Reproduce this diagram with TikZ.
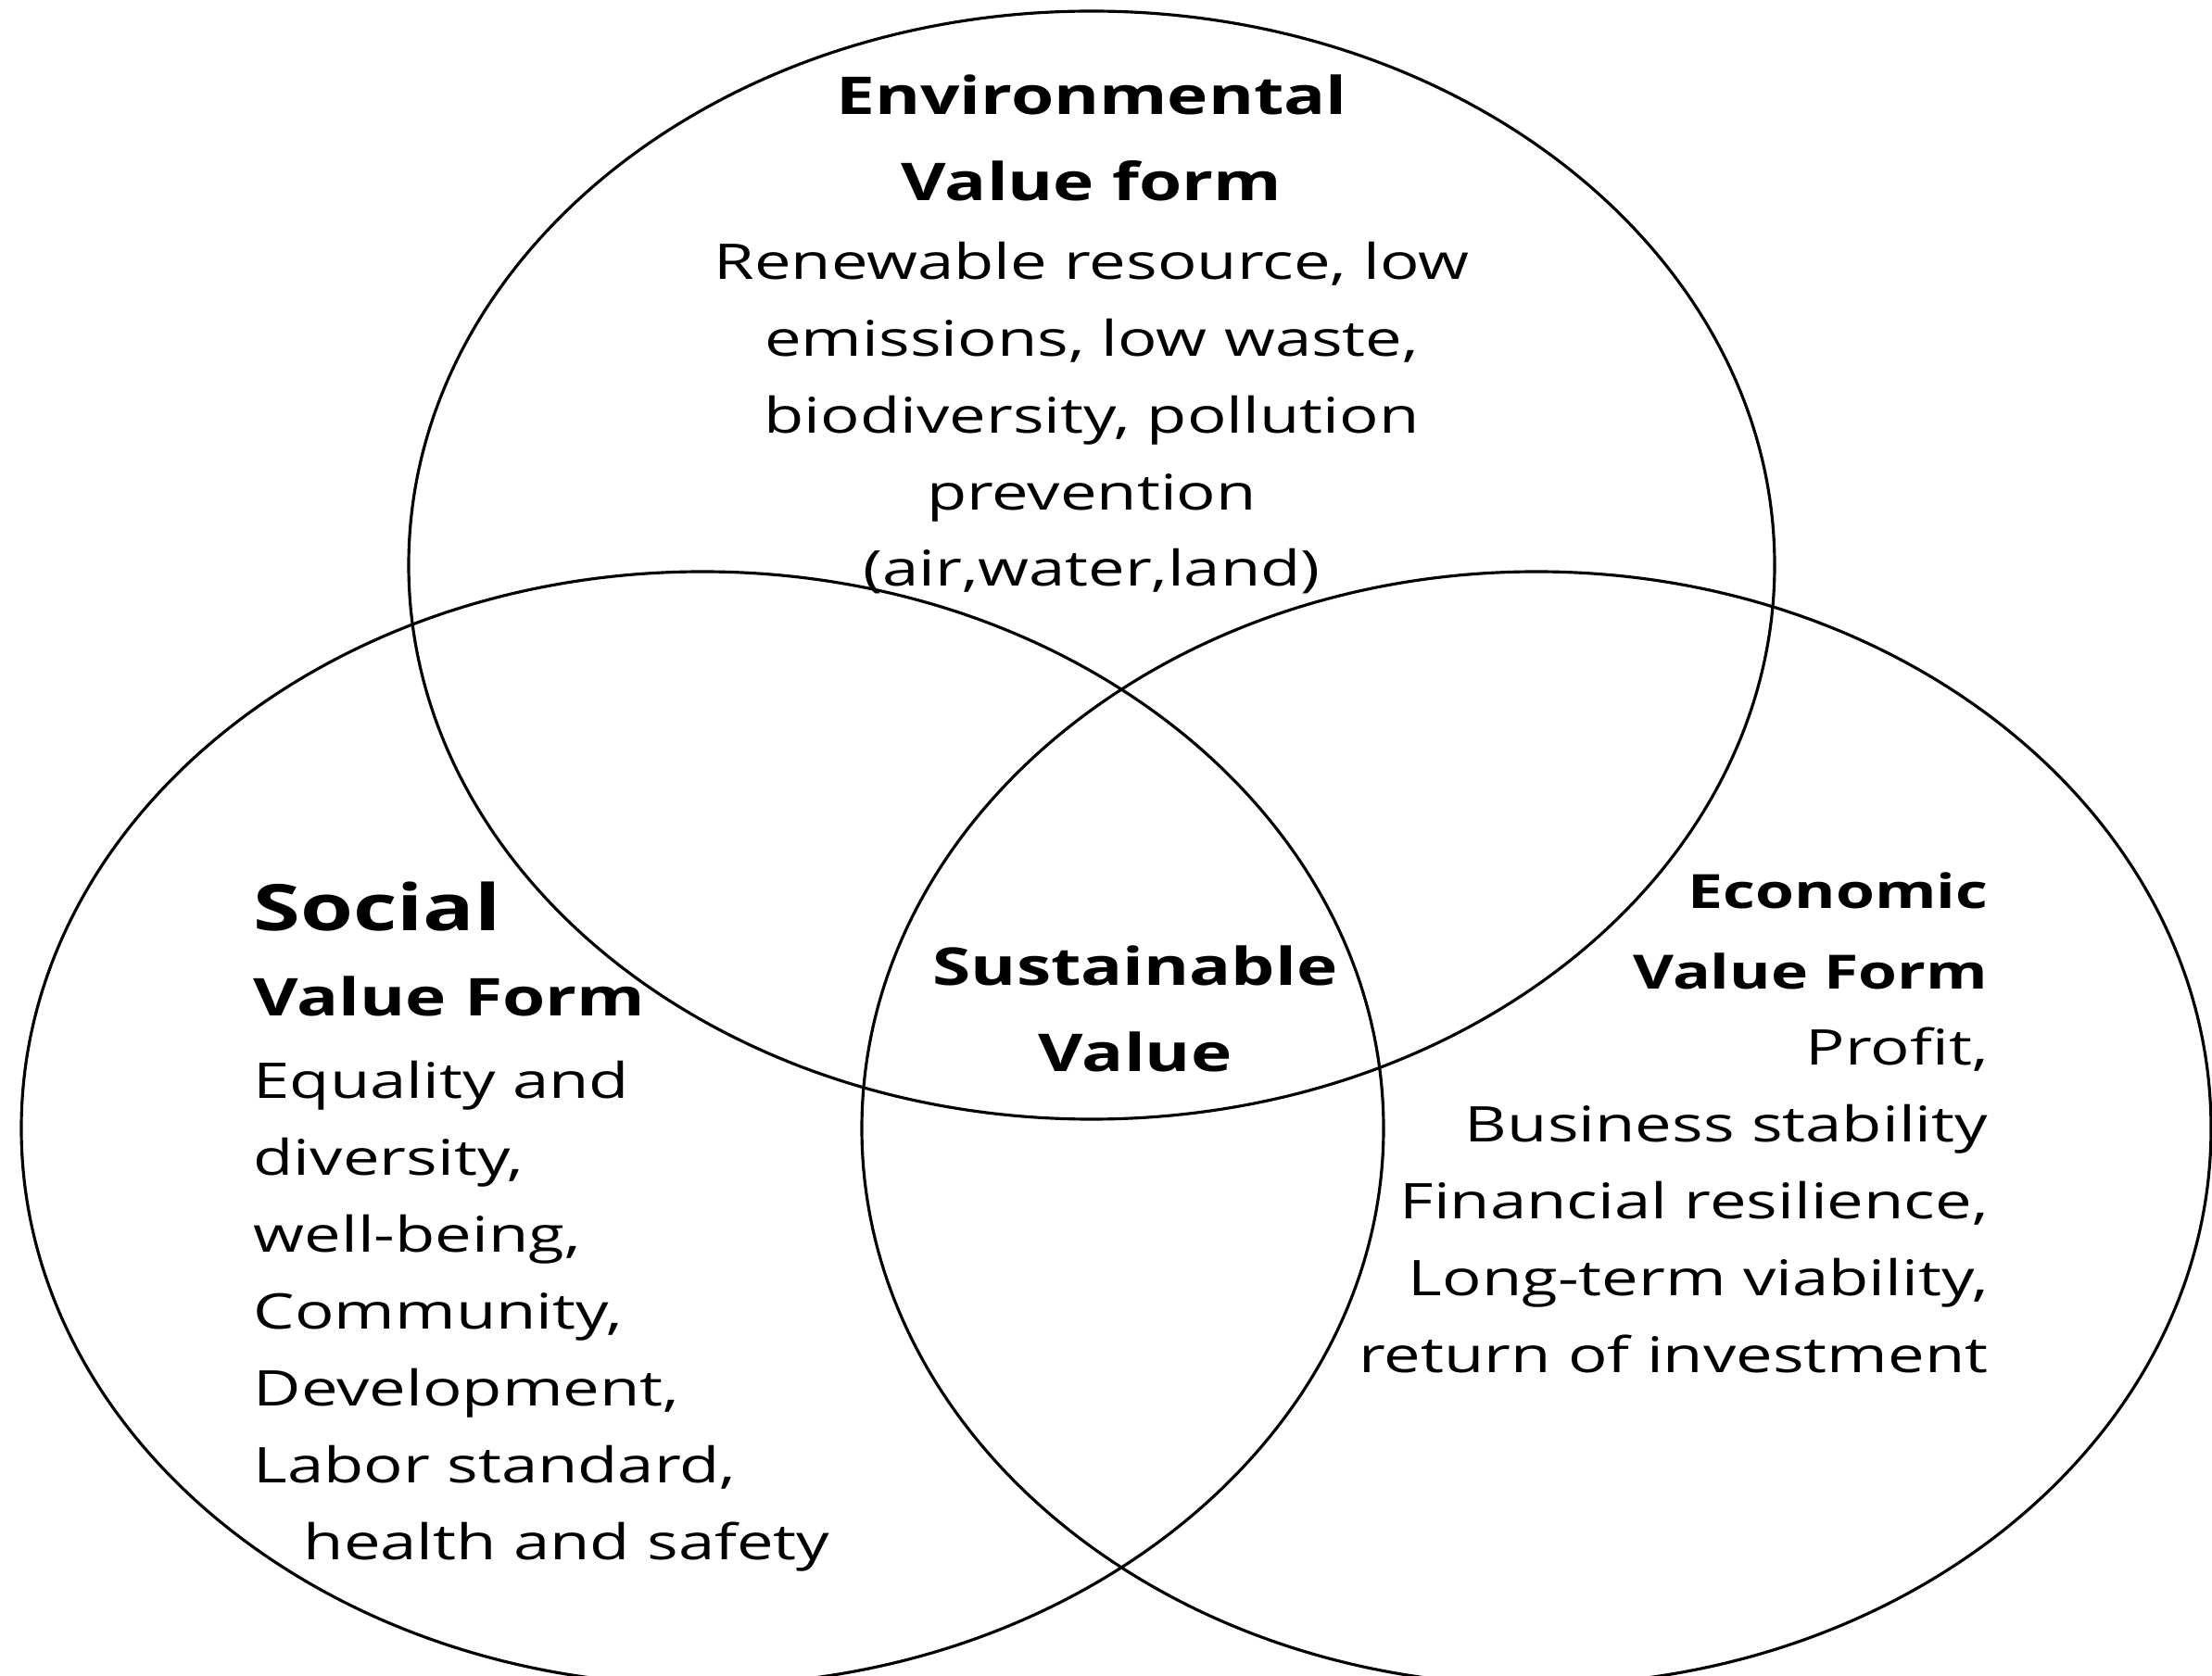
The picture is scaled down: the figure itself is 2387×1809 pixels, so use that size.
\documentclass[tikz,border=0pt]{standalone}
\usepackage{fontspec}
\setmainfont{Open Sans}[FakeStretch=1.33]
\begin{document}
\begin{tikzpicture}[x=0.1mm,y=-0.1mm,
    venn/.style={line width=0.9pt},
    headtxt/.style={font=\bfseries\fontsize{16}{26.7}\selectfont,inner sep=0,anchor=base},
    bodytxt/.style={font=\fontsize{15.1}{23.6}\selectfont,inner sep=0,anchor=base}]
    \useasboundingbox (0,0) rectangle (2387,1809) ;
    \clip (0,0) rectangle (2387,1809) ;

    \coordinate (env) at (1178,610) ;
    \coordinate (soc) at (758,1218) ;
    \coordinate (eco) at (1658,1218) ;

    \draw[venn] (env) ellipse [x radius=737,y radius=598] ;
    \draw[venn] (soc) ellipse [x radius=735,y radius=601] ;
    \draw[venn] (eco) ellipse [x radius=728,y radius=601] ;

    % multi-line nodes sit on the baseline of their last line
    \node[headtxt,align=center] (env_head) at (1178,217) {Environmental\\Value form} ;
    \node[bodytxt,align=center] (env_body) at (1178,633) {Renewable resource, low\\emissions, low waste,\\biodiversity, pollution\\prevention\\(air,water,land)} ;

    \node[headtxt,anchor=base west,font=\bfseries\fontsize{19.7}{26}\selectfont] (soc_title) at (273,1005) {Social} ;
    \node[headtxt,anchor=base west] (soc_head) at (273,1097) {Value Form} ;
    \node[bodytxt,anchor=base west,align=left] (soc_body) at (273,1683) {Equality and\\diversity,\\well-being,\\Community,\\Development,\\Labor standard,\\\hspace*{5.4mm}health and safety} ;

    \node[headtxt,align=center] (sust) at (1225,1157) {Sustainable\\Value} ;

    \node[headtxt,anchor=base east,align=right,font=\bfseries\fontsize{14.5}{24.8}\selectfont] (eco_head) at (2146,1068) {Economic\\Value Form} ;
    \node[bodytxt,anchor=base east,align=right] (eco_body) at (2146,1481) {Profit,\\Business stability\\Financial resilience,\\Long-term viability,\\return of investment} ;
\end{tikzpicture}
\end{document}
